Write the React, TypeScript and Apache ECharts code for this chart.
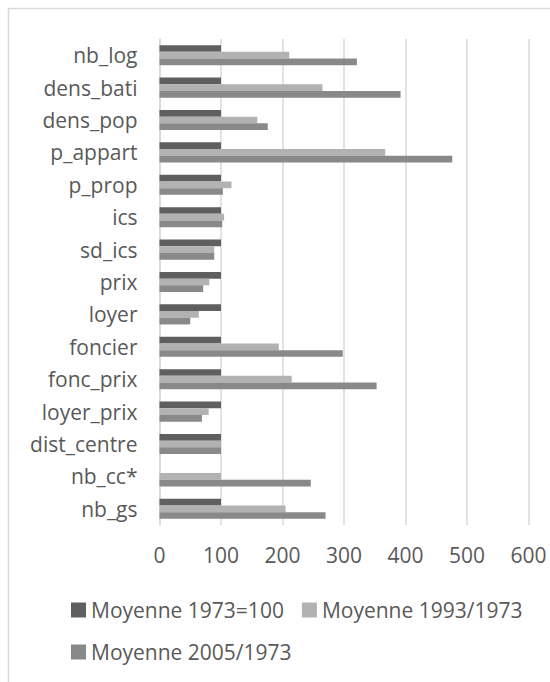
import React, { useEffect, useRef } from "react";
import * as echarts from "echarts";

const categories = [
  "nb_log", "dens_bati", "dens_pop", "p_appart", "p_prop", "ics", "sd_ics", "prix",
  "loyer", "foncier", "fonc_prix", "loyer_prix", "dist_centre", "nb_cc*", "nb_gs",
];
const base1973 = [100, 100, 100, 100, 100, 100, 100, 100, 100, 100, 100, 100, 100, null, 100];
const ratio1993 = [211, 265, 159, 367, 117, 105, 89, 81, 64, 194, 215, 80, 100, 100, 205];
const ratio2005 = [321, 392, 176, 476, 103, 102, 89, 71, 50, 298, 353, 69, 100, 246, 270];
const xTicks = { min: 0, max: 600, interval: 100 };
const seriesNames = ["Moyenne 1973=100", "Moyenne 1993/1973", "Moyenne 2005/1973"];

const FONT = "'Open Sans', sans-serif";
const TXT = "#595959";
const GRID = "#d9d9d9";

export default function App() {
  const ref = useRef<HTMLDivElement>(null);
  useEffect(() => {
    const chart = echarts.init(ref.current!, undefined, { renderer: "svg" });
    const mk = (name: string, data: (number | null)[], color: string) => ({
      name,
      type: "bar",
      data,
      barGap: "0%",
      barCategoryGap: "38%",
      itemStyle: { color },
    });
    chart.setOption({
      animation: false,
      backgroundColor: "#ffffff",
      textStyle: { fontFamily: FONT },
      graphic: [
        {
          type: "rect",
          shape: { x: 8.5, y: 8.5, width: 600, height: 700 },
          style: { fill: "none", stroke: GRID, lineWidth: 1.5 },
          silent: true,
        },
      ],
      grid: { left: 159.5, right: 21.5, top: 39, bottom: 157, containLabel: false },
      xAxis: {
        type: "value",
        min: xTicks.min,
        max: xTicks.max,
        interval: xTicks.interval,
        axisLine: { show: false },
        axisTick: { show: false },
        splitLine: { lineStyle: { color: GRID, width: 1.5 } },
        axisLabel: { color: TXT, fontSize: 21, fontFamily: FONT, margin: 19 },
      },
      yAxis: {
        type: "category",
        data: categories,
        inverse: true,
        axisLine: { show: true, lineStyle: { color: GRID, width: 1.5 } },
        axisTick: { show: false },
        axisLabel: { color: TXT, fontSize: 21, fontFamily: FONT, margin: 22 },
      },
      legend: {
        left: 66,
        top: 593,
        width: 480,
        itemGap: 18,
        itemWidth: 15,
        itemHeight: 15,
        icon: "rect",
        textStyle: { color: TXT, fontSize: 21, fontFamily: FONT, lineHeight: 24 },
        data: seriesNames,
      },
      series: [
        mk(seriesNames[0], base1973, "#5f5f5f"),
        mk(seriesNames[1], ratio1993, "#b2b2b2"),
        mk(seriesNames[2], ratio2005, "#898989"),
      ],
    });
    return () => chart.dispose();
  }, []);
  return (
    <div
      ref={ref}
      style={{ position: "absolute", left: 0, top: 0, width: 550, height: 682 }}
    />
  );
}
